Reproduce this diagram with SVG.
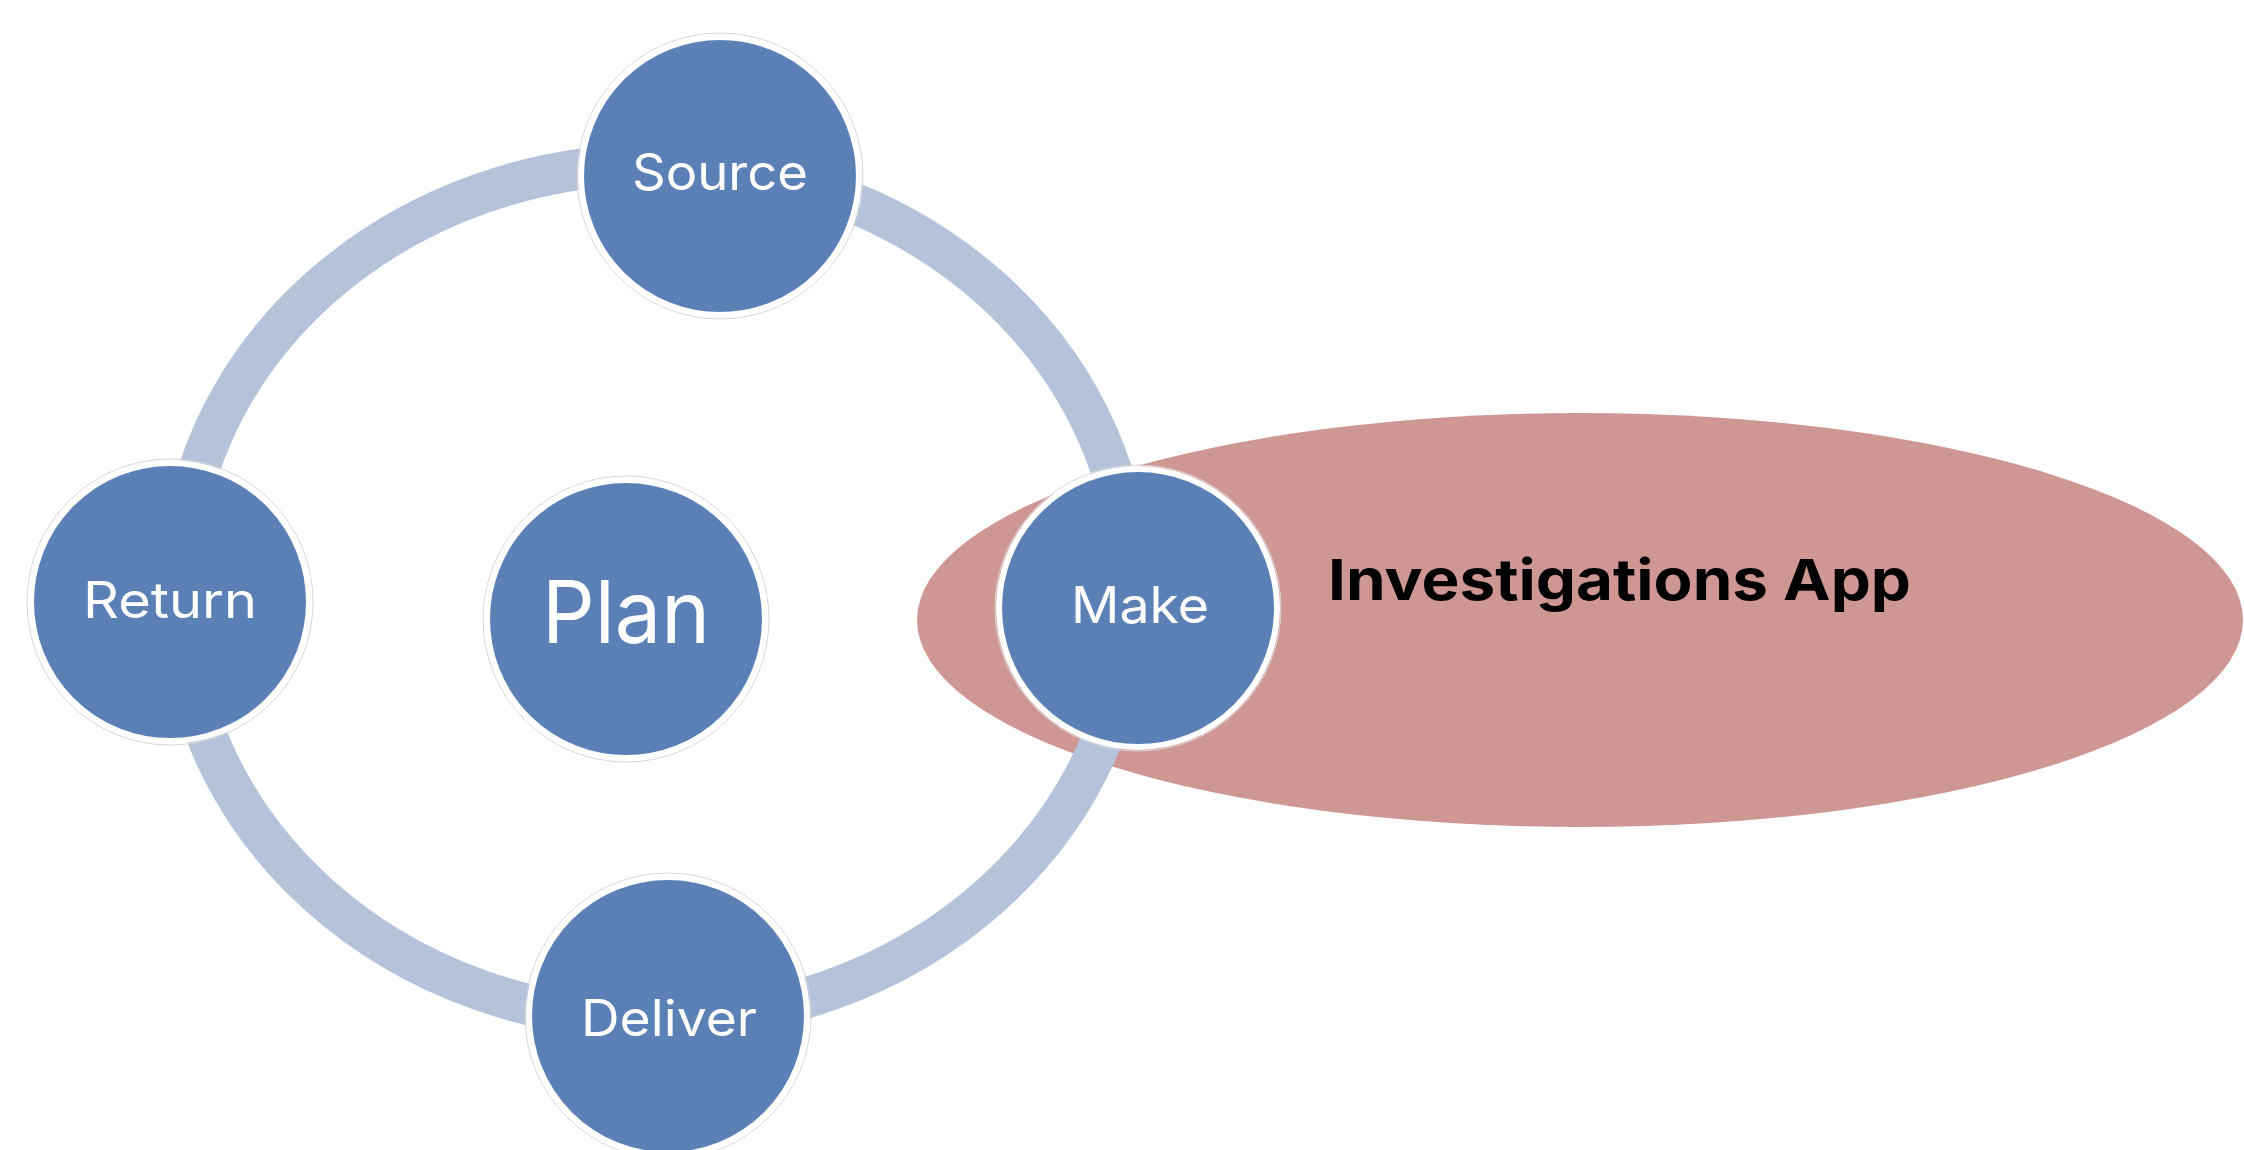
<svg xmlns="http://www.w3.org/2000/svg" width="2244" height="1150" viewBox="0 0 2244 1150">
  <style>
    .node { fill: #5A80B6; stroke: #FFFFFF; stroke-width: 6; }
    .halo { fill: none; stroke: #D8D8D8; stroke-width: 1; }
    .lbl { font-family: Inter, "Liberation Sans", sans-serif; fill: #FFFFFF; font-size: 50px; text-anchor: middle; }
    .big { font-size: 86px; }
    .app { font-family: Inter, "Liberation Sans", sans-serif; font-weight: bold; font-size: 57px; fill: #000000; }
  </style>
  <rect x="0" y="0" width="2244" height="1150" fill="#FFFFFF"/>

  <g id="investigations-app">
    <ellipse cx="1580" cy="620" rx="663" ry="207" fill="#CF9794"/>
  </g>

  <g id="connectors">
    <ellipse cx="655" cy="592" rx="476" ry="428" fill="none" stroke="#B4C2DA" stroke-width="41"/>
  </g>

  <g id="source">
    <circle class="halo" cx="720" cy="176" r="143"/>
    <circle class="node" cx="720" cy="176" r="139"/>
    <text class="lbl" x="720" y="190" textLength="176" lengthAdjust="spacingAndGlyphs">Source</text>
  </g>

  <g id="return">
    <circle class="halo" cx="170" cy="602" r="143"/>
    <circle class="node" cx="170" cy="602" r="139"/>
    <text class="lbl" x="170" y="618" textLength="174" lengthAdjust="spacingAndGlyphs">Return</text>
  </g>

  <g id="plan">
    <circle class="halo" cx="626" cy="619" r="143"/>
    <circle class="node" cx="626" cy="619" r="139"/>
    <text class="lbl big" x="626" y="643" textLength="168" lengthAdjust="spacingAndGlyphs">Plan</text>
  </g>

  <g id="make">
    <circle class="halo" cx="1138" cy="608" r="143"/>
    <circle class="node" cx="1138" cy="608" r="139"/>
    <text class="lbl" x="1140" y="623" textLength="138" lengthAdjust="spacingAndGlyphs">Make</text>
  </g>

  <g id="deliver">
    <circle class="halo" cx="668" cy="1016" r="143"/>
    <circle class="node" cx="668" cy="1016" r="139"/>
    <text class="lbl" x="669" y="1036" textLength="176" lengthAdjust="spacingAndGlyphs">Deliver</text>
  </g>

  <g id="investigations-app-label">
    <text class="app" x="1328" y="600" textLength="583" lengthAdjust="spacingAndGlyphs">Investigations App</text>
  </g>
</svg>
